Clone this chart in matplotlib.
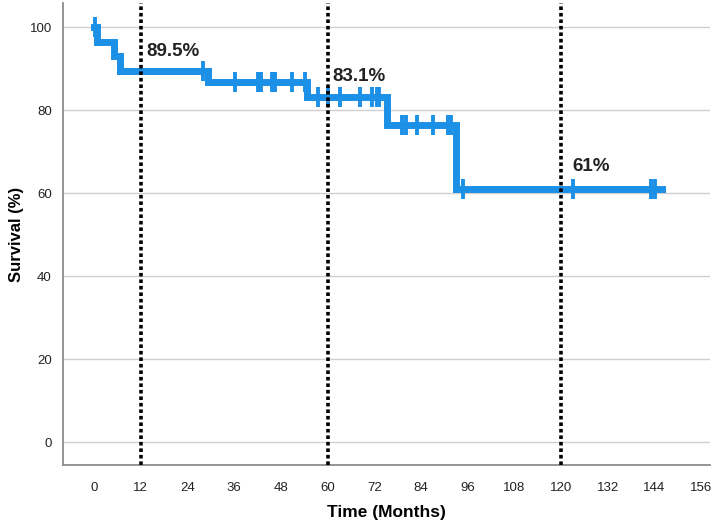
import numpy as np
import matplotlib.pyplot as plt

# Kaplan-Meier steps
step_t = [0, 0.8, 5.1, 6.7, 29.3, 54.8, 75.3, 93.0, 146]
step_s = [100, 96.5, 93.0, 89.5, 86.7, 83.1, 76.4, 61.0, 61.0]

# censored cases (months)
cens_t = [0.3, 28.0, 36.2, 42.2, 43.0, 45.8, 46.5, 50.9, 54.2,
          57.6, 60.2, 63.2, 68.4, 71.5, 72.7, 73.3,
          79.2, 80.2, 83.0, 87.1, 91.0, 91.8,
          94.9, 123.0, 143.2, 144.0]

marks = [12, 60, 120]
mark_lbl = ['89.5%', '83.1%', '61%']
lbl_pos = [(13.3, 94.2), (61.3, 88.2), (123.0, 66.3)]

xticks = list(range(0, 157, 12))
yticks = [0, 20, 40, 60, 80, 100]

blue = '#1c8fe6'
fam = ['Liberation Sans', 'DejaVu Sans']

fig = plt.figure(figsize=(7.13, 5.27), dpi=100)
ax = fig.add_axes([0.0884, 0.1176, 0.9076, 0.8767])

ax.step(step_t, step_s, where='post', color=blue, lw=5, solid_joinstyle='miter', zorder=3)

idx = np.searchsorted(step_t, cens_t, side='right') - 1
cens_s = np.array(step_s)[idx]
ax.plot(cens_t, cens_s, ls='none', marker='|', ms=14, mew=2.8, color=blue, zorder=3)

for m in marks:
    ax.axvline(m, color='black', ls=(0, (1, 0.8)), lw=2.6, zorder=4)

for (x, y), s in zip(lbl_pos, mark_lbl):
    ax.text(x, y, s, fontsize=13.5, fontweight='bold', color='#222222',
            ha='left', va='center', family=fam, zorder=5)

ax.set_xlim(-8, 158.3)
ax.set_ylim(-5.5, 105.8)
ax.set_xticks(xticks)
ax.set_yticks(yticks)
ax.tick_params(length=0, labelsize=9.5, colors='#222222')
ax.tick_params(axis='x', pad=12)
ax.tick_params(axis='y', pad=8)
for lab in ax.get_xticklabels() + ax.get_yticklabels():
    lab.set_family(fam)

ax.yaxis.grid(True, color='#d0d0d0', lw=1)
ax.set_axisbelow(True)
for sp in ['top', 'right']:
    ax.spines[sp].set_visible(False)
for sp in ['left', 'bottom']:
    ax.spines[sp].set_color('#8c8c8c')
    ax.spines[sp].set_linewidth(1.3)

ax.set_xlabel('Time (Months)', fontsize=12.5, fontweight='bold', family=fam, labelpad=8)
ax.set_ylabel('Survival (%)', fontsize=12, fontweight='bold', family=fam, labelpad=4)

fig.savefig('out.png', dpi=100)
